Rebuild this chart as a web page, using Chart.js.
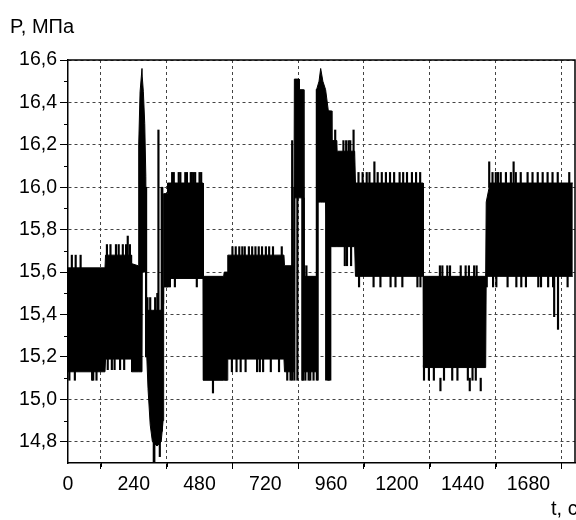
<!DOCTYPE html>
<html>
<head>
<meta charset="utf-8">
<script src="https://cdn.jsdelivr.net/npm/chart.js@4/dist/chart.umd.min.js"></script>
<style>
  html, body { margin: 0; padding: 0; background: #fff; }
  #wrap { width: 576px; height: 520px; }
</style>
</head>
<body>
<div id="wrap"><canvas id="pChart" width="576" height="520"></canvas></div>
<script>
// envelope of the pressure band: time (s), lower and upper bound (MPa)
const envT  = [0, 135, 137, 232, 232, 256, 258, 263, 270, 271, 275, 280, 284, 286, 292, 300, 308, 325, 340, 347, 349, 362, 363, 493, 494, 568, 570, 582, 583, 788, 790, 824, 826, 843, 844, 860, 861, 905, 907, 916, 922, 930, 940, 950, 962, 963, 981, 982, 1046, 1049, 1296, 1297, 1524, 1526, 1540, 1842];
const envLo = [15.13, 15.13, 15.19, 15.19, 15.13, 15.13, 15.13, 15.13, 15.13, 15.6, 15.6, 15.6, 15.6, 15.25, 15.05, 14.88, 14.8, 14.78, 14.8, 14.9, 15.53, 15.53, 15.57, 15.57, 15.09, 15.09, 15.09, 15.09, 15.19, 15.19, 15.13, 15.13, 15.95, 15.95, 15.95, 15.95, 15.13, 15.13, 15.93, 15.93, 15.93, 15.93, 15.93, 15.72, 15.72, 15.72, 15.72, 15.72, 15.72, 15.58, 15.58, 15.15, 15.15, 15.58, 15.58, 15.58];
const envHi = [15.62, 15.62, 15.68, 15.68, 15.64, 15.63, 16.2, 16.45, 16.56, 16.52, 16.45, 16.3, 16.05, 15.42, 15.42, 15.42, 15.42, 15.42, 15.42, 15.45, 15.97, 15.97, 16.02, 16.02, 15.58, 15.58, 15.6, 15.6, 15.68, 15.68, 15.63, 15.63, 16.51, 16.51, 16.46, 16.46, 15.58, 15.58, 16.46, 16.5, 16.56, 16.5, 16.46, 16.36, 16.36, 16.22, 16.22, 16.17, 16.17, 16.02, 16.02, 15.58, 15.58, 15.93, 16.02, 16.02];

// single spikes sticking out of the band
const spikeT  = [14, 28, 46, 5, 25, 88, 92, 104,
  142, 155, 175, 185, 200, 212, 218, 226, 145, 160, 170, 190, 205,
  290, 300, 318, 326, 313, 315, 335, 330, 342, 344, 285,
  380, 386, 404, 410, 428, 434, 448, 452, 458, 464, 480, 486, 362, 366, 372, 390, 470,
  529, 600, 612, 625, 636, 645, 660, 672, 684, 696, 708, 722, 734, 748, 780,
  598, 615, 630, 648, 690, 700, 712, 740, 770, 800, 812,
  818, 826, 837, 855, 858, 862, 870, 866, 878, 884, 896, 908, 911, 942, 948, 950, 953, 957,
  975, 1005, 1015, 1024, 1030, 1042, 1010, 1018, 1033,
  1060, 1075, 1090, 1100, 1118, 1130, 1145, 1160, 1175, 1190, 1210, 1223, 1237, 1255, 1270, 1285,
  1062, 1115, 1140, 1177, 1195, 1220, 1275, 1286,
  1357, 1366, 1384, 1394, 1433, 1451, 1463, 1482, 1491,
  1299, 1317, 1335, 1372, 1402, 1421, 1459, 1476, 1488, 1359, 1466, 1506,
  1537, 1549, 1561, 1569, 1579, 1598, 1616, 1626, 1634, 1652, 1677, 1695, 1714, 1732, 1750, 1768, 1787, 1829,
  1528, 1551, 1563, 1604, 1636, 1654, 1671, 1716, 1726, 1752, 1770, 1823, 1774, 1788];
const spikeLo = [15.6, 15.6, 15.6, 15.09, 15.09, 15.09, 15.09, 15.09,
  15.67, 15.67, 15.67, 15.67, 15.67, 15.67, 15.67, 15.67, 15.14, 15.14, 15.14, 15.14, 15.14,
  15.4, 15.4, 15.4, 15.4, 14.7, 14.7, 14.73, 15.4, 14.85, 14.9, 15.2,
  16.0, 16.0, 16.0, 16.0, 16.0, 16.0, 16.0, 16.0, 16.0, 16.0, 16.0, 16.0, 15.53, 15.53, 15.53, 15.53, 15.53,
  15.03, 15.67, 15.67, 15.67, 15.67, 15.67, 15.67, 15.67, 15.67, 15.67, 15.67, 15.67, 15.67, 15.67, 15.67,
  15.13, 15.13, 15.13, 15.13, 15.13, 15.13, 15.13, 15.13, 15.13, 15.09, 15.09,
  15.09, 15.09, 15.09, 15.09, 15.09, 15.57, 15.57, 15.09, 15.09, 15.09, 15.09, 15.09, 15.09, 15.09, 15.09, 15.09, 15.09, 15.09,
  16.15, 16.15, 16.15, 16.15, 16.15, 16.15, 15.63, 15.63, 15.63,
  16.0, 16.0, 16.0, 16.0, 16.0, 16.0, 16.0, 16.0, 16.0, 16.0, 16.0, 16.0, 16.0, 16.0, 16.0, 16.0,
  15.53, 15.53, 15.53, 15.53, 15.53, 15.53, 15.53, 15.53,
  15.57, 15.57, 15.57, 15.57, 15.57, 15.57, 15.57, 15.57, 15.57,
  15.09, 15.09, 15.09, 15.09, 15.09, 15.09, 15.09, 15.09, 15.09, 15.04, 15.04, 15.04,
  16.0, 16.0, 16.0, 16.0, 16.0, 16.0, 16.0, 16.0, 16.0, 16.0, 16.0, 16.0, 16.0, 16.0, 16.0, 16.0, 16.0, 16.0,
  15.53, 15.53, 15.53, 15.53, 15.53, 15.53, 15.53, 15.53, 15.53, 15.53, 15.53, 15.53, 15.39, 15.33];
const spikeHi = [15.68, 15.68, 15.68, 15.14, 15.14, 15.14, 15.14, 15.14,
  15.73, 15.73, 15.73, 15.73, 15.73, 15.73, 15.77, 15.73, 15.2, 15.2, 15.2, 15.2, 15.2,
  15.48, 15.48, 15.48, 15.5, 14.8, 14.8, 14.8, 16.27, 16.0, 16.0, 16.0,
  16.07, 16.07, 16.07, 16.07, 16.07, 16.07, 16.07, 16.07, 16.07, 16.07, 16.07, 16.07, 15.58, 15.58, 15.58, 15.58, 15.58,
  15.1, 15.72, 15.72, 15.72, 15.72, 15.72, 15.72, 15.72, 15.72, 15.72, 15.72, 15.72, 15.72, 15.72, 15.72,
  15.2, 15.2, 15.2, 15.2, 15.2, 15.2, 15.2, 15.2, 15.2, 15.14, 15.14,
  16.22, 16.0, 16.0, 16.0, 16.0, 15.63, 15.63, 15.14, 15.14, 15.14, 15.14, 16.46, 16.46, 16.3, 16.3, 16.36, 16.3, 16.3,
  16.27, 16.22, 16.22, 16.22, 16.22, 16.27, 15.73, 15.73, 15.73,
  16.07, 16.07, 16.07, 16.07, 16.12, 16.07, 16.07, 16.07, 16.07, 16.07, 16.07, 16.07, 16.07, 16.07, 16.07, 16.07,
  15.59, 15.59, 15.59, 15.59, 15.59, 15.59, 15.59, 15.59,
  15.63, 15.63, 15.63, 15.63, 15.63, 15.63, 15.63, 15.63, 15.63,
  15.16, 15.16, 15.16, 15.16, 15.16, 15.16, 15.16, 15.16, 15.16, 15.1, 15.1, 15.1,
  16.12, 16.07, 16.07, 16.07, 16.07, 16.07, 16.07, 16.12, 16.07, 16.07, 16.07, 16.07, 16.07, 16.07, 16.07, 16.07, 16.07, 16.07,
  15.59, 15.59, 15.59, 15.59, 15.59, 15.59, 15.59, 15.59, 15.59, 15.59, 15.59, 15.59, 15.59, 15.59];

const xTicks = [0, 240, 480, 720, 960, 1200, 1440, 1680];
const yTicks = [14.8, 15.0, 15.2, 15.4, 15.6, 15.8, 16.0, 16.2, 16.4, 16.6];

const FONT = "'Liberation Sans', Arial, sans-serif";

// frame, minor ticks and axis captions
const extras = {
  id: 'extras',
  afterDraw(chart) {
    const { ctx, chartArea: a, scales } = chart;
    const x = scales.x, y = scales.y;
    ctx.save();
    ctx.strokeStyle = '#000';
    ctx.lineWidth = 1.5;
    ctx.beginPath();
    ctx.moveTo(a.left, a.top);
    ctx.lineTo(a.right, a.top);
    ctx.lineTo(a.right, a.bottom);
    ctx.stroke();

    ctx.lineWidth = 1;
    ctx.beginPath();
    for (let t = 120; t < 1850; t += 240) {
      const px = Math.round(x.getPixelForValue(t)) + 0.5;
      ctx.moveTo(px, a.bottom);
      ctx.lineTo(px, a.bottom + 4);
    }
    for (let v = 14.9; v < 16.6; v += 0.2) {
      const py = Math.round(y.getPixelForValue(v)) + 0.5;
      ctx.moveTo(a.left - 4, py);
      ctx.lineTo(a.left, py);
    }
    ctx.stroke();

    ctx.fillStyle = '#000';
    ctx.font = '20px ' + FONT;
    ctx.textBaseline = 'alphabetic';
    ctx.textAlign = 'left';
    ctx.fillText('P, МПа', 10, 33);
    ctx.fillText('t, c', 551, 515);
    ctx.restore();
  }
};

new Chart(document.getElementById('pChart'), {
  type: 'line',
  data: {
    datasets: [
      {
        data: envT.map((t, i) => ({ x: t, y: envHi[i] })),
        borderColor: '#000',
        backgroundColor: '#000',
        borderWidth: 1,
        pointRadius: 0,
        tension: 0,
        fill: '+1'
      },
      {
        data: envT.map((t, i) => ({ x: t, y: envLo[i] })),
        borderColor: '#000',
        borderWidth: 1,
        pointRadius: 0,
        tension: 0,
        fill: false
      },
      {
        type: 'bar',
        data: spikeT.map((t, i) => ({ x: t, y: [spikeLo[i], spikeHi[i]] })),
        backgroundColor: '#000',
        borderWidth: 0,
        barThickness: 1.5,
        grouped: false
      }
    ]
  },
  options: {
    responsive: false,
    animation: false,
    devicePixelRatio: 1,
    layout: { padding: { top: 60, right: 1, left: 0, bottom: 0 } },
    plugins: { legend: { display: false }, tooltip: { enabled: false } },
    events: [],
    scales: {
      x: {
        type: 'linear',
        min: 0,
        max: 1850,
        offset: false,
        afterFit: s => { s.height = 57; },
        afterBuildTicks: s => { s.ticks = xTicks.map(v => ({ value: v })); },
        border: { display: true, color: '#000', width: 1.5, dash: [3, 3] },
        grid: {
          color: '#444',
          tickColor: '#000',
          tickBorderDash: [],
          tickLength: 6
        },
        ticks: {
          color: '#000',
          font: { family: FONT, size: 19.5 },
          padding: 4,
          maxRotation: 0,
          callback: v => String(v)
        }
      },
      y: {
        min: 14.7,
        max: 16.6,
        afterFit: s => { s.width = 68; },
        afterBuildTicks: s => { s.ticks = yTicks.map(v => ({ value: v })); },
        border: { display: true, color: '#000', width: 1.5, dash: [3, 3] },
        grid: {
          color: '#444',
          tickColor: '#000',
          tickBorderDash: [],
          tickLength: 8
        },
        ticks: {
          color: '#000',
          font: { family: FONT, size: 19.5 },
          padding: 3,
          callback: v => v.toFixed(1).replace('.', ',')
        }
      }
    }
  },
  plugins: [extras]
});
</script>
</body>
</html>
